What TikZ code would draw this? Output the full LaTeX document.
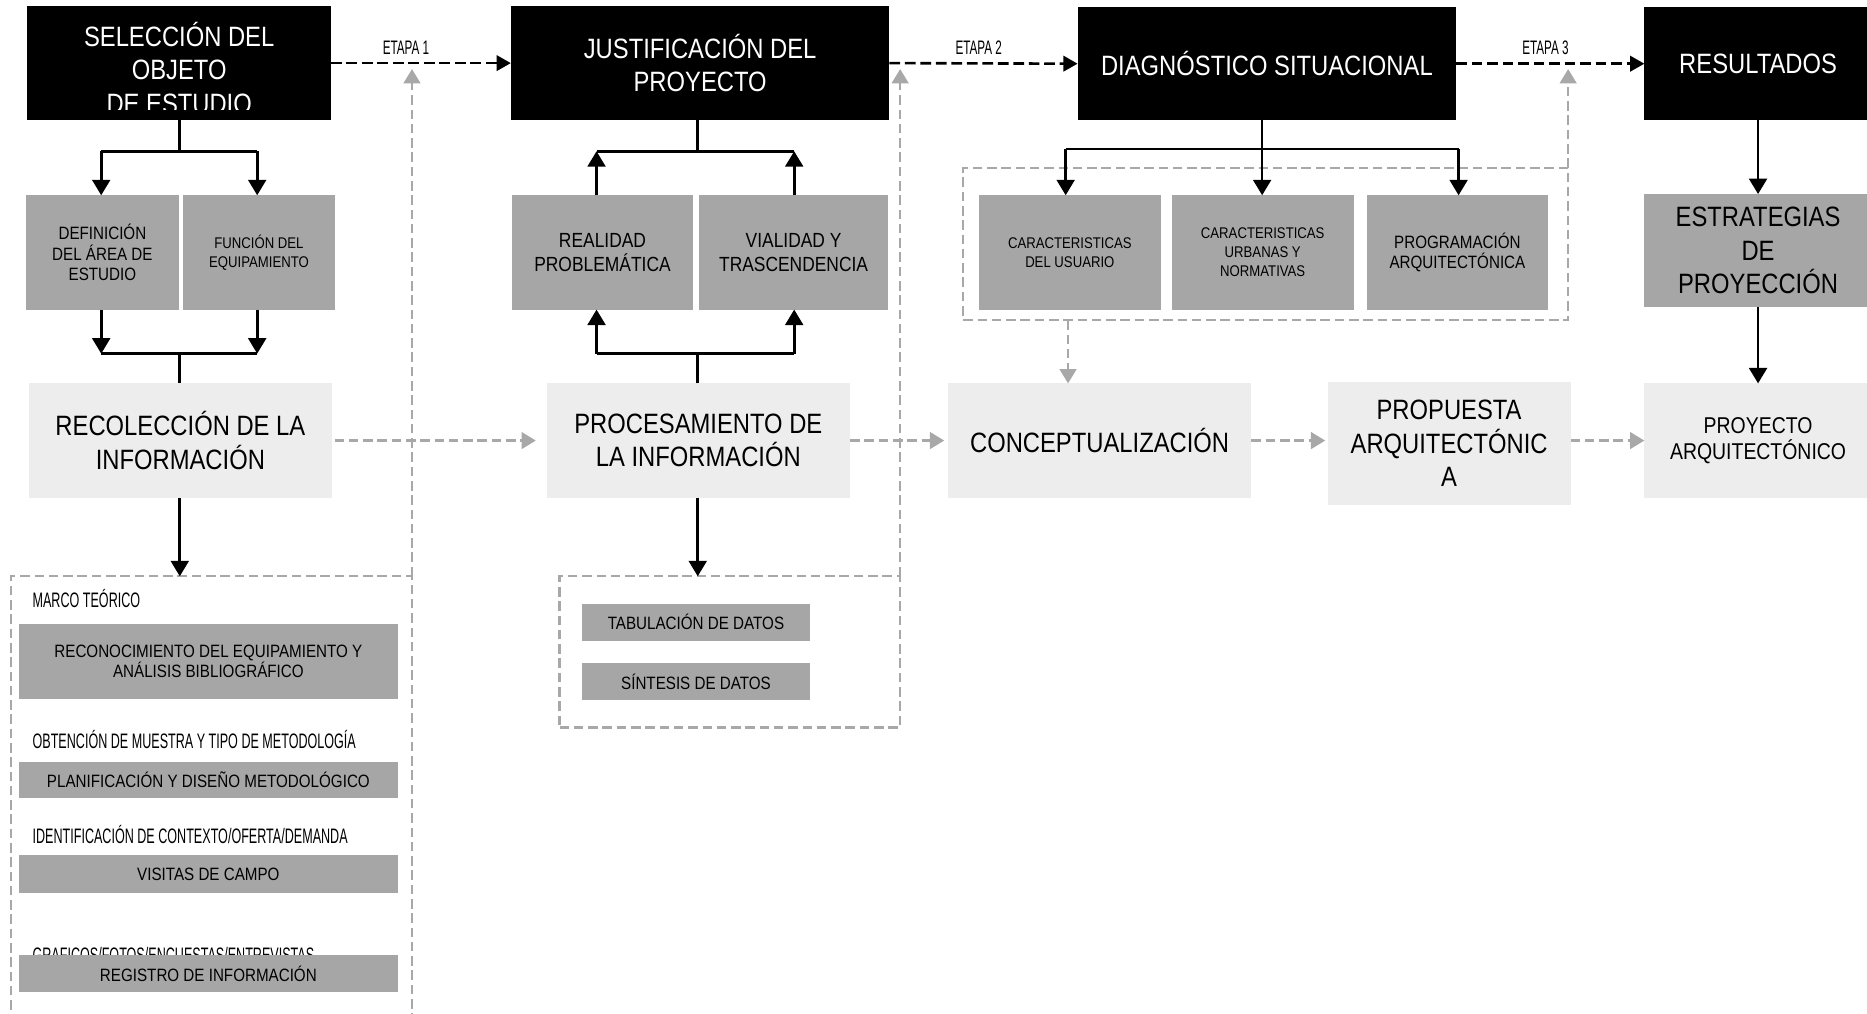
\documentclass[tikz,border=0pt]{standalone}
\usepackage{fontspec}
\setmainfont{Liberation Sans}[FakeStretch=0.85]
\newfontfamily\condf{Liberation Sans}[FakeStretch=0.6]
\usetikzlibrary{arrows.meta}
\definecolor{boxgray}{HTML}{A6A6A6}
\definecolor{boxlight}{HTML}{EDEDED}
\definecolor{dgray}{HTML}{A8A8A8}
\newcommand\szBig{\fontsize{11.75}{14}\selectfont}
\newcommand\szMid{\fontsize{8.6}{10}\selectfont}
\newcommand\szProy{\fontsize{9.6}{11}\selectfont}
\newcommand\szSmall{\fontsize{7.5}{8.5}\selectfont}
\newcommand\szTiny{\fontsize{6.5}{8}\selectfont}
\newcommand\szCond{\condf\fontsize{8.8}{10}\selectfont}
\newcommand\szEtapa{\condf\fontsize{8.2}{9}\selectfont}
\begin{document}
\begin{tikzpicture}[x=0.5pt,y=-0.5pt,
  bx/.style={inner sep=0pt, outer sep=0pt, align=center},
  blackbox/.style={bx, fill=black, text=white, font=\szBig},
  graybox/.style={bx, fill=boxgray, text=black},
  lightbox/.style={bx, fill=boxlight, text=black, font=\szBig},
  dbox/.style={bx, draw=dgray, line width=1pt, dash pattern=on 4pt off 2pt},
  conn/.style={draw=black, line width=1.1pt},
  arrowend/.style={-{Triangle[width=7.5pt,length=6.5pt]}},
  bdash/.style={draw=black, line width=1.1pt, dash pattern=on 4.5pt off 2pt, -{Triangle[width=6.5pt,length=6pt]}},
  gdash/.style={draw=dgray, line width=1pt, dash pattern=on 4pt off 2pt, -{Triangle[width=7pt,length=6pt]}},
  lbl/.style={anchor=base west, inner sep=0pt, font=\szCond},
  etapa/.style={anchor=base, inner sep=0pt, font=\szEtapa}]
\useasboundingbox (0,0) rectangle (1568,851);
\clip (0,0) rectangle (1568,851);

% dashed group boxes
\node[dbox, minimum width=168.5pt, minimum height=193pt] (dleft) at (177.5,677) {};
\node[dbox, minimum width=143pt, minimum height=63.5pt] (dmid) at (613,547.5) {};
\node[dbox, minimum width=254pt, minimum height=64pt] (dright) at (1063,205) {};

% top black boxes
\node[blackbox, minimum width=127.5pt, minimum height=48pt] (sel) at (150.5,53) {};
\begin{scope}
\clip (23,5) rectangle (278,92);
\node[bx, text=white, font=\szBig] (seltxt) at (150.5,57) {SELECCIÓN DEL\\OBJETO\\DE ESTUDIO};
\end{scope}
\node[blackbox, minimum width=159pt, minimum height=48pt] (just) at (588,53) {JUSTIFICACIÓN DEL\\PROYECTO};
\node[blackbox, minimum width=159pt, minimum height=47.5pt] (diag) at (1064,53.5) {DIAGNÓSTICO SITUACIONAL};
\node[blackbox, minimum width=95.5pt, minimum height=47.5pt] (res) at (1476.5,53.5) {RESULTADOS};

% gray boxes row 2
\node[graybox, font=\szSmall, minimum width=64pt, minimum height=48pt] (def) at (86,212) {DEFINICIÓN\\DEL ÁREA DE\\ESTUDIO};
\node[graybox, font=\szTiny, minimum width=63.5pt, minimum height=48pt] (func) at (217.5,212) {FUNCIÓN DEL\\EQUIPAMIENTO};
\node[graybox, font=\szMid, minimum width=76pt, minimum height=48pt] (real) at (506,212) {REALIDAD\\PROBLEMÁTICA};
\node[graybox, font=\szMid, minimum width=79.5pt, minimum height=48pt] (vial) at (666.5,212) {VIALIDAD Y\\TRASCENDENCIA};
\node[graybox, font=\szTiny, minimum width=76.5pt, minimum height=48pt] (cusu) at (898.5,212) {CARACTERISTICAS\\DEL USUARIO};
\node[graybox, font=\szTiny, minimum width=76.5pt, minimum height=48pt] (curb) at (1060.5,212) {CARACTERISTICAS\\URBANAS Y\\NORMATIVAS};
\node[graybox, font=\szSmall, minimum width=76pt, minimum height=48pt] (prog) at (1224,212) {PROGRAMACIÓN\\ARQUITECTÓNICA};
\node[graybox, font=\szBig, minimum width=95.5pt, minimum height=47.5pt] (estr) at (1476.5,210.5) {ESTRATEGIAS\\DE\\PROYECCIÓN};

% light boxes row 3
\node[lightbox, minimum width=127.5pt, minimum height=48pt] (recol) at (151.5,370) {RECOLECCIÓN DE LA\\INFORMACIÓN};
\node[lightbox, minimum width=127.5pt, minimum height=48pt] (proc) at (586.5,370) {PROCESAMIENTO DE\\LA INFORMACIÓN};
\node[lightbox, minimum width=127.5pt, minimum height=48pt] (conc) at (923.5,370) {CONCEPTUALIZACIÓN};
\node[lightbox, minimum width=102pt, minimum height=51.5pt] (prop) at (1217,372.5) {PROPUESTA\\ARQUITECTÓNIC\\A};
\node[lightbox, font=\szProy, minimum width=95.5pt, minimum height=48pt] (proy) at (1476.5,370) {PROYECTO\\ARQUITECTÓNICO};

% left lower group
\node[lbl] (lmarco) at (27,510.5) {MARCO TEÓRICO};
\node[graybox, font=\szSmall, minimum width=159pt, minimum height=31.5pt] (reco) at (175,555.5) {RECONOCIMIENTO DEL EQUIPAMIENTO Y\\ANÁLISIS BIBLIOGRÁFICO};
\node[lbl] (lobt) at (27,628.5) {OBTENCIÓN DE MUESTRA Y TIPO DE METODOLOGÍA};
\node[graybox, font=\szSmall, minimum width=159pt, minimum height=15pt] (plan) at (175,655) {PLANIFICACIÓN Y DISEÑO METODOLÓGICO};
\node[lbl] (lid) at (27,708.5) {IDENTIFICACIÓN DE CONTEXTO/OFERTA/DEMANDA};
\node[graybox, font=\szSmall, minimum width=159pt, minimum height=16pt] (visi) at (175,734) {VISITAS DE CAMPO};
\node[lbl] (lgraf) at (27,808) {GRAFICOS/FOTOS/ENCUESTAS/ENTREVISTAS};
\node[graybox, font=\szSmall, minimum width=159pt, minimum height=15.5pt] (regi) at (175,817.5) {REGISTRO DE INFORMACIÓN};

% middle lower group
\node[graybox, font=\szSmall, minimum width=95.5pt, minimum height=15.5pt] (tabu) at (584.5,522.5) {TABULACIÓN DE DATOS};
\node[graybox, font=\szSmall, minimum width=95.5pt, minimum height=15.5pt] (sint) at (584.5,572.5) {SÍNTESIS DE DATOS};

% ETAPA labels
\node[etapa] (e1) at (341,46) {ETAPA 1};
\node[etapa] (e2) at (822,46) {ETAPA 2};
\node[etapa] (e3) at (1298,46) {ETAPA 3};

% junction coordinates
\coordinate (l1) at (151,127); \coordinate (l1a) at (85,127); \coordinate (l1b) at (216,127);
\coordinate (l2) at (151,297); \coordinate (l2a) at (85,297); \coordinate (l2b) at (216,297);
\coordinate (m1) at (586,127); \coordinate (m1a) at (501,127); \coordinate (m1b) at (667,127);
\coordinate (m2) at (586,297); \coordinate (m2a) at (501,297); \coordinate (m2b) at (667,297);
\coordinate (r1) at (1060,125); \coordinate (r1a) at (895,125); \coordinate (r1b) at (1225,125);
\coordinate (g1) at (346,58); \coordinate (g2) at (756,58); \coordinate (g3) at (1317,58);
\coordinate (g4) at (897,269);

% left column connectors
\draw[conn] (sel.south -| l1) -- (l1);
\draw[conn] (l1a) -- (l1b);
\draw[conn, arrowend] (l1a) -- (l1a |- def.north);
\draw[conn, arrowend] (l1b) -- (l1b |- func.north);
\draw[conn, arrowend] (l2a |- def.south) -- (l2a);
\draw[conn, arrowend] (l2b |- func.south) -- (l2b);
\draw[conn] (l2a) -- (l2b);
\draw[conn] (l2) -- (l2 |- recol.north);
\draw[conn, arrowend] (recol.south -| l2) -- (l2 |- dleft.north);

% middle column connectors
\draw[conn] (just.south -| m1) -- (m1);
\draw[conn] (m1a) -- (m1b);
\draw[conn, arrowend] (m1a |- real.north) -- (m1a);
\draw[conn, arrowend] (m1b |- vial.north) -- (m1b);
\draw[conn, arrowend] (m2a) -- (m2a |- real.south);
\draw[conn, arrowend] (m2b) -- (m2b |- vial.south);
\draw[conn] (m2a) -- (m2b);
\draw[conn] (proc.north -| m2) -- (m2);
\draw[conn, arrowend] (proc.south -| m2) -- (m2 |- dmid.north);

% right column connectors
\draw[conn] (diag.south -| r1) -- (r1);
\draw[conn] (r1a) -- (r1b);
\draw[conn, arrowend] (r1a) -- (r1a |- cusu.north);
\draw[conn, arrowend] (r1) -- (r1 |- curb.north);
\draw[conn, arrowend] (r1b) -- (r1b |- prog.north);
\draw[conn, arrowend] (res.south) -- (estr.north);
\draw[conn, arrowend] (estr.south) -- (proy.north);

% ETAPA arrows
\draw[bdash] (sel.east) -- (just.west);
\draw[bdash] (just.east) -- (diag.west);
\draw[bdash] (diag.east) -- (res.west);

% gray dashed arrows
\draw[gdash] (dleft.north east) -- (g1);
\draw[gdash] (dmid.north east) -- (g2);
\draw[gdash] (dright.north east) -- (g3);
\draw[gdash] (g4) -- (g4 |- conc.north);
\draw[gdash, shorten >=4.5pt, shorten <=1pt] (recol.east) -- (proc.west);
\draw[gdash, shorten >=1.5pt] (proc.east) -- (conc.west);
\draw[gdash, shorten >=1pt] (conc.east) -- (conc.east -| prop.west);
\draw[gdash] (prop.east |- proy.west) -- (proy.west);
\end{tikzpicture}
\end{document}
